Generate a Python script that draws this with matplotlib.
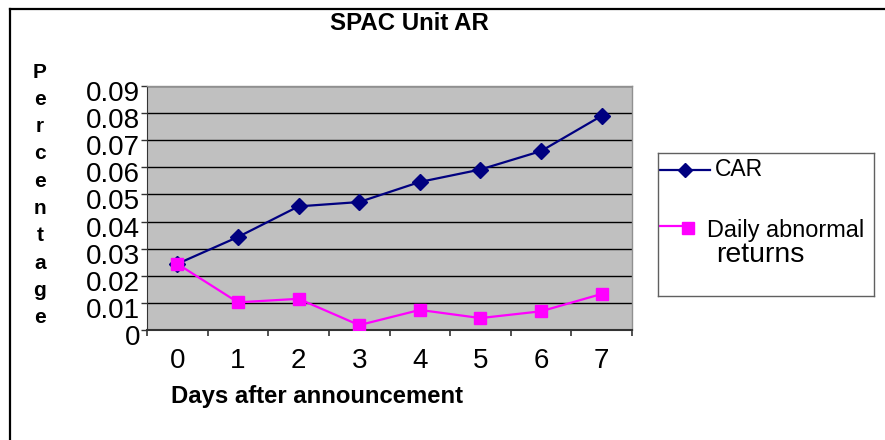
import matplotlib
matplotlib.use("Agg")
import matplotlib.pyplot as plt
from matplotlib.lines import Line2D
from matplotlib.transforms import ScaledTranslation
import numpy as np

plt.rcParams['font.family'] = ['Liberation Sans', 'DejaVu Sans']

days = [0, 1, 2, 3, 4, 5, 6, 7]
car = [0.0244, 0.0343, 0.0456, 0.0472, 0.0546, 0.0592, 0.0660, 0.0790]
daily = [0.0244, 0.0102, 0.0115, 0.0018, 0.0074, 0.0044, 0.0069, 0.0133]
yticks = [0, 0.01, 0.02, 0.03, 0.04, 0.05, 0.06, 0.07, 0.08, 0.09]
ytick_labels = ['0', '0.01', '0.02', '0.03', '0.04', '0.05', '0.06', '0.07', '0.08', '0.09']
title = 'SPAC Unit AR'
xlabel = 'Days after announcement'
ylabel = 'Percentage'
series_names = ['CAR', 'Daily abnormal', 'returns']

W, H = 885, 440
fig = plt.figure(figsize=(W / 100, H / 100), dpi=100)
fig.patch.set_facecolor('white')

# outer chart border (top and left visible)
fig.add_artist(Line2D([10 / W, 10 / W], [0, 1 - 9 / H], color='black', lw=1.6, transform=fig.transFigure))
fig.add_artist(Line2D([10 / W, 1], [1 - 9 / H, 1 - 9 / H], color='black', lw=1.6, transform=fig.transFigure))

ax = fig.add_axes([147 / W, (H - 330) / H, (632 - 147) / W, (330 - 86) / H])
ax.set_facecolor('#C0C0C0')

ax.plot(days, car, color='#000080', marker='D', markersize=8, lw=1.6, zorder=3)
ax.plot(days, daily, color='#FF00FF', marker='s', markersize=9, lw=1.6, zorder=3)

ax.set_xlim(-0.5, 7.5)
ax.set_ylim(0, 0.09)
ax.set_yticks(yticks)
ax.set_yticklabels(ytick_labels, fontsize=20)
ax.yaxis.grid(True, color='black', lw=1.0)
ax.set_axisbelow(True)

ax.set_xticks(np.arange(-0.5, 8.0, 1.0))
ax.set_xticklabels([])
ax.set_xticks(days, minor=True)
ax.set_xticklabels([str(d) for d in days], minor=True, fontsize=20)
ax.tick_params(axis='x', which='minor', length=0, pad=13)
ax.tick_params(axis='x', which='major', length=4, width=1.2, color='#333333')
ax.tick_params(axis='y', length=4, width=1.0, color='#333333', pad=1)

for lab in ax.get_yticklabels():
    lab.set_transform(lab.get_transform() + ScaledTranslation(0, -5 / 100, fig.dpi_scale_trans))

for s in ['top', 'right']:
    ax.spines[s].set_color('#909090')
    ax.spines[s].set_linewidth(1.0)
ax.spines['left'].set_color('#333333')
ax.spines['bottom'].set_color('#333333')
ax.spines['bottom'].set_linewidth(1.5)

fig.text(409 / W, 1 - 23 / H, title, fontsize=17.3, fontweight='bold', ha='center', va='center')
fig.text(317 / W, 1 - 396 / H, xlabel, fontsize=17.2, fontweight='bold', ha='center', va='center')
for i, ch in enumerate(ylabel):
    fig.text(40 / W, 1 - (72 + 27.3 * i) / H, ch, fontsize=15, fontweight='bold', ha='center', va='center')

# legend box
lax = fig.add_axes([658 / W, (H - 296) / H, (874 - 658) / W, (296 - 153) / H])
lax.set_xlim(0, 216)
lax.set_ylim(143, 0)
lax.set_xticks([])
lax.set_yticks([])
for s in lax.spines.values():
    s.set_color('#606060')
    s.set_linewidth(1.0)
lax.plot([2, 52], [17, 17], color='#000080', lw=1.6)
lax.plot([27], [17], color='#000080', marker='D', markersize=7, lw=0)
lax.text(57, 17, series_names[0], fontsize=16.5, va='center', ha='left')
lax.plot([2, 26], [73, 73], color='#FF00FF', lw=1.6)
lax.plot([30], [75], color='#FF00FF', marker='s', markersize=8, lw=0)
lax.text(49, 78, series_names[1], fontsize=16.9, va='center', ha='left')
lax.text(58, 102, series_names[2], fontsize=20.5, va='center', ha='left')

fig.savefig('out.png', dpi=100)
